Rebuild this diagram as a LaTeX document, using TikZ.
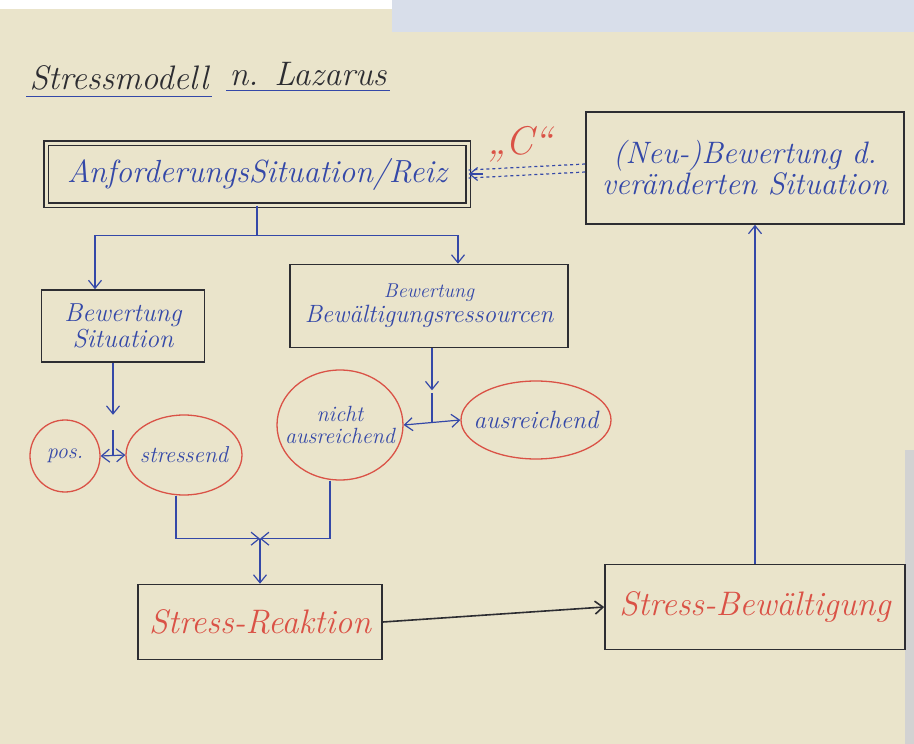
\documentclass[tikz,border=0pt]{standalone}
\usepackage{tikz}
\usetikzlibrary{arrows.meta,shapes.geometric}

\definecolor{paper}{RGB}{234,228,203}
\definecolor{pen}{RGB}{52,72,168}
\definecolor{redpen}{RGB}{218,82,70}
\definecolor{ink}{RGB}{45,45,50}
\definecolor{grid}{RGB}{216,222,234}

\begin{document}
\begin{tikzpicture}[x=1pt,y=-1pt,
  >={Straight Barb[length=8pt,width=13pt]},
  hand/.style={font=\fontsize{#1}{#1}\selectfont\itshape},
  box/.style={draw=ink,line width=1.6pt,align=center,text=pen,inner sep=2pt},
  oval/.style={ellipse,draw=redpen,line width=1.3pt,text=pen,align=center,inner ysep=0pt,inner xsep=-8pt},
  pen line/.style={draw=pen,line width=1.2pt}]

% paper and photo edges
\fill[paper] (0,0) rectangle (914,744);
\fill[white] (0,0) rectangle (392,9);
\fill[grid] (392,0) rectangle (914,32);
\fill[gray!35] (905,450) rectangle (914,744);
\useasboundingbox (0,0) rectangle (914,744);

% title
\node[hand=34,text=ink,anchor=west] (titleA) at (26,78) {Stressmodell};
\node[hand=34,text=ink,anchor=west] (titleB) at ([xshift=14,yshift=4]titleA.east) {n. Lazarus};
\draw[pen line] ([yshift=-3]titleA.south west) -- ([yshift=-3]titleA.south east);
\draw[pen line] ([yshift=-1]titleB.south west) -- ([yshift=-1]titleB.south east);

% top row
\node[box,hand=32,double=paper,double distance=3pt,line width=1.4pt,
      minimum width=422,minimum height=62] (reiz) at (257,174) {AnforderungsSituation/Reiz};
\node[box,hand=31,minimum width=318,minimum height=112] (neu) at (745,168)
  {(Neu-)Bewertung d.\\veränderten Situation};
\node[hand=40,text=redpen] (c) at (520,144) {„C“};
\draw[pen line,dashed] ([yshift=4]neu.west) -- ([yshift=4]reiz.east);
\draw[pen line,dashed] ([yshift=-4]neu.west) -- ([yshift=-4]reiz.east);
\draw[pen line,->] ([xshift=14]reiz.east) -- (reiz.east);

% appraisal boxes
\node[box,hand=26,minimum width=163,minimum height=72] (bs) at (123,326)
  {Bewertung\\Situation};
\node[box,hand=25,minimum width=278,minimum height=83] (bb) at (429,306)
  {{\fontsize{20}{20}\selectfont Bewertung}\\Bewältigungsressourcen};

\draw[pen line] (reiz.south) -- ++(0,30) coordinate (split);
\draw[pen line,->] (split) -| ([xshift=-28]bs.north);
\draw[pen line,->] (split) -| ([xshift=29]bb.north);

% ovals
\node[oval,hand=22,minimum width=70,minimum height=72] (pos) at (65,456) {pos.};
\node[oval,hand=23,minimum width=116,minimum height=80] (stress) at (184,455) {stressend};
\node[oval,hand=22,inner xsep=-12pt,minimum width=126,minimum height=110] (nicht) at (340,425) {nicht\\ausreichend};
\node[oval,hand=25,inner xsep=-12pt,minimum width=150,minimum height=78] (aus) at (536,420) {ausreichend};

\path (pos.east) -- coordinate[midway] (sjoin) (stress.west);
\path (nicht.east) -- coordinate[midway] (ajoin) (aus.west);
\draw[pen line,->] (bs.south -| sjoin) -- ++(0,52);
\draw[pen line] (sjoin) -- ++(0,-26);
\draw[pen line,<->] (pos.east) -- (stress.west);
\draw[pen line,->] (bb.south -| ajoin) -- ++(0,42);
\draw[pen line] (ajoin) -- ++(0,-30);
\draw[pen line,<->] (nicht.east) -- (aus.west);

% reaction and coping
\node[box,hand=34,text=redpen,minimum width=244,minimum height=75] (react) at (260,622) {Stress-Reaktion};
\node[box,hand=34,text=redpen,minimum width=300,minimum height=85] (cope) at (755,607) {Stress-Bewältigung};

\coordinate (merge) at ([yshift=45]react.north);
\draw[pen line,->] ([xshift=-8]stress.south) |- (merge);
\draw[pen line,->] ([xshift=-10]nicht.south) |- (merge);
\draw[pen line,->] (merge) -- (react.north);
\draw[draw=ink,line width=1.6pt,->] (react.east) -- (cope.west);
\draw[pen line,->] (cope.north) -- (cope.north |- neu.south);
\end{tikzpicture}
\end{document}
